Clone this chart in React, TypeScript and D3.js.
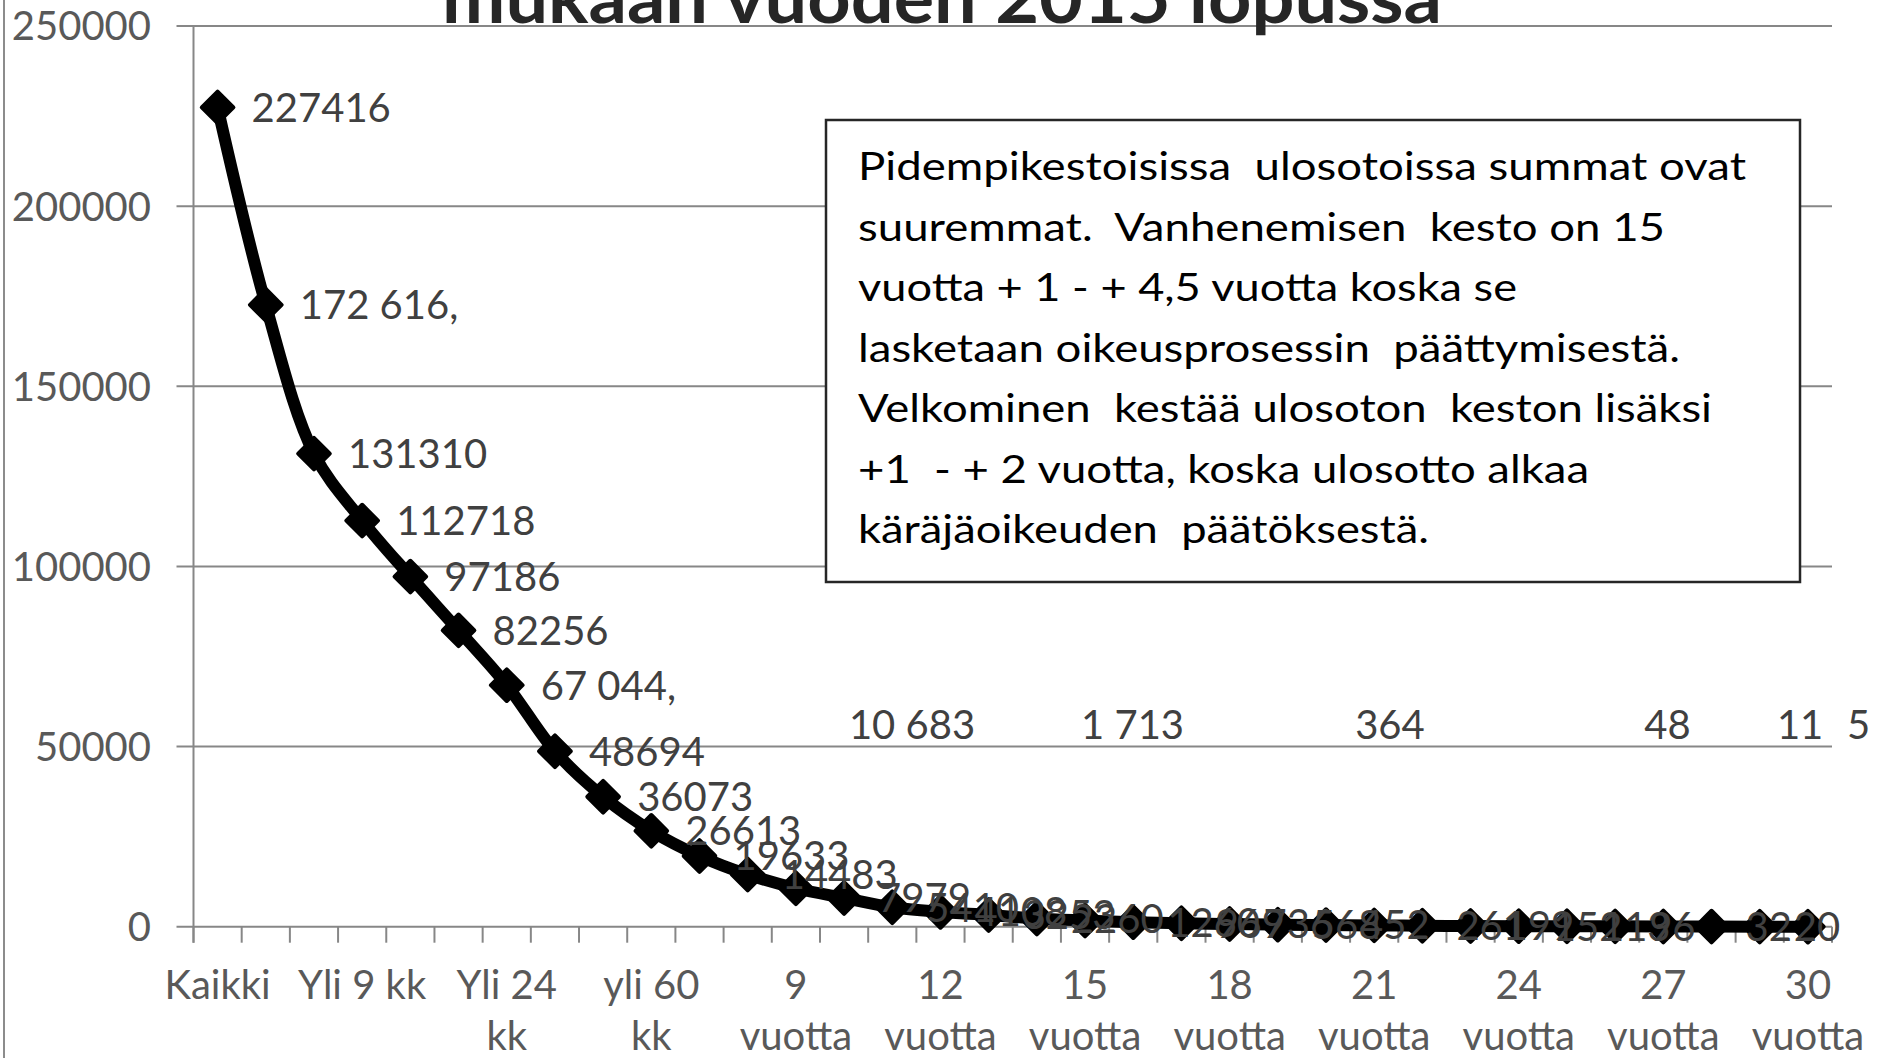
import React from "react";
import * as d3 from "d3";

const categories = [
  "Kaikki", "Yli 3 kk", "Yli 6 kk", "Yli 9 kk", "Yli 12 kk", "Yli 18 kk",
  "Yli 24 kk", "Yli 36 kk", "Yli 48 kk", "yli 60 kk", "7 vuotta", "8 vuotta",
  "9 vuotta", "10 vuotta", "11 vuotta", "12 vuotta", "13 vuotta", "14 vuotta",
  "15 vuotta", "16 vuotta", "17 vuotta", "18 vuotta", "19 vuotta", "20 vuotta",
  "21 vuotta", "22 vuotta", "23 vuotta", "24 vuotta", "25 vuotta", "26 vuotta",
  "27 vuotta", "28 vuotta", "29 vuotta", "30 vuotta",
];

const values = [
  227416, 172616, 131310, 112718, 97186, 82256, 67044, 48694, 36073, 26613,
  19633, 14483, 10683, 7979, 5410, 4108, 3253, 2260, 1713, 1260,
  969, 736, 568, 452, 364, 261, 199, 152, 113, 96,
  48, 32, 20, 11,
];

const valueLabels = [
  "227416", "172 616,", "131310", "112718", "97186", "82256", "67 044,", "48694", "36073", "26613",
  "19633", "14483", "10 683", "7979", "5410", "4108", "3253", "2260", "1 713", "1260",
  "969", "736", "568", "452", "364", "261", "199", "152", "113", "96",
  "48", "32", "20", "11",
];

// labels that were dragged up above the 50000 gridline: [point index, text, x offset]
const movedLabels: [number, string, number][] = [
  [12, "10 683", 53],
  [18, "1 713", -4],
  [24, "364", -19],
  [30, "48", -19],
  [33, "11", -31],
  [33, "5", 39],
];
const movedLabelValue = 52000;

const tickIndices = [0, 3, 6, 9, 12, 15, 18, 21, 24, 27, 30, 33];
const tickLabels = [
  ["Kaikki"], ["Yli 9 kk"], ["Yli 24", "kk"], ["yli 60", "kk"],
  ["9", "vuotta"], ["12", "vuotta"], ["15", "vuotta"], ["18", "vuotta"],
  ["21", "vuotta"], ["24", "vuotta"], ["27", "vuotta"], ["30", "vuotta"],
];

const yTicks = [0, 50000, 100000, 150000, 200000, 250000];

const titleText = "mukaan vuoden 2015 lopussa";

const noteLines = [
  "Pidempikestoisissa  ulosotoissa summat ovat",
  "suuremmat.  Vanhenemisen  kesto on 15",
  "vuotta + 1 - + 4,5 vuotta koska se",
  "lasketaan oikeusprosessin  päättymisestä.",
  "Velkominen  kestää ulosoton  keston lisäksi",
  "+1  - + 2 vuotta, koska ulosotto alkaa",
  "käräjäoikeuden  päätöksestä.",
];
const noteLineWidths = [888, 807, 659, 822, 854, 731, 571];

const W = 1877;
const H = 1058;
const FONT = "Lato, 'Open Sans', sans-serif";

export default function App() {
  const x = d3.scaleBand<string>().domain(categories).range([193.5, 1832]).padding(0);
  const y = d3.scaleLinear().domain([0, 250000]).range([926.7, 26]);
  const cx = (i: number) => (x(categories[i]) as number) + x.bandwidth() / 2;

  const line = d3
    .line<number>()
    .x((_, i) => cx(i))
    .y((d) => y(d))
    .curve(d3.curveCatmullRom.alpha(0.5));

  const diamond = d3.symbol().type(d3.symbolSquare).size(500)() as string;

  const axisX0 = 193.5;
  const plotRight = 1832;

  return (
    <svg
      width={W}
      height={H}
      style={{ position: "absolute", left: 0, top: 0, background: "#fff" }}
      fontFamily={FONT}
    >
      <rect x={0} y={0} width={W} height={H} fill="#fff" />
      {/* chart border (left) */}
      <line x1={4} x2={4} y1={0} y2={H} stroke="#8c8c8c" strokeWidth={2} />

      {/* gridlines + y ticks */}
      {yTicks.map((t) => (
        <g key={t}>
          <line
            x1={axisX0 - 17}
            x2={plotRight}
            y1={y(t)}
            y2={y(t)}
            stroke="#878787"
            strokeWidth={2}
          />
          <text
            x={151}
            y={y(t)}
            dy="0.36em"
            textAnchor="end"
            fontSize={40}
            fill="#595959"
          >
            {t}
          </text>
        </g>
      ))}

      {/* y axis line */}
      <line x1={axisX0} x2={axisX0} y1={y(250000)} y2={y(0) + 16} stroke="#878787" strokeWidth={2} />

      {/* x ticks at band boundaries */}
      {d3.range(categories.length + 1).map((k) => {
        const xx = axisX0 + k * x.bandwidth();
        return (
          <line key={k} x1={xx} x2={xx} y1={y(0)} y2={y(0) + 16} stroke="#878787" strokeWidth={2} />
        );
      })}

      {/* x tick labels */}
      {tickIndices.map((idx, j) => (
        <text key={idx} x={cx(idx)} y={999} textAnchor="middle" fontSize={40} fill="#595959">
          {tickLabels[j].map((ln, k) => (
            <tspan key={k} x={cx(idx)} dy={k === 0 ? 0 : 51}>
              {ln}
            </tspan>
          ))}
        </text>
      ))}

      {/* title (clipped at top) */}
      <text
        x={942}
        y={23}
        textAnchor="middle"
        fontSize={70}
        fontWeight="bold"
        fill="#262626"
        textLength={1000}
        lengthAdjust="spacingAndGlyphs"
      >
        {titleText}
      </text>

      {/* text box */}
      <rect x={826} y={120} width={974} height={462} fill="#fff" stroke="#262626" strokeWidth={2.5} />
      {noteLines.map((ln, i) => (
        <text
          key={i}
          x={858}
          y={180 + i * 60.5}
          fontSize={38}
          fill="#000"
          textLength={noteLineWidths[i]}
          lengthAdjust="spacingAndGlyphs"
          style={{ whiteSpace: "pre" }}
        >
          {ln}
        </text>
      ))}

      {/* series line */}
      <path d={line(values) as string} fill="none" stroke="#000" strokeWidth={12} strokeLinejoin="round" />
      {values.map((v, i) => (
        <path
          key={i}
          d={diamond}
          transform={`translate(${cx(i)},${y(v)}) rotate(45)`}
          fill="#000"
          stroke="#000"
          strokeWidth={4}
          strokeLinejoin="round"
        />
      ))}

      {/* data labels */}
      {values.map((v, i) =>
        movedLabels.some((m) => m[0] === i) ? null : (
          <text key={i} x={cx(i) + 34} y={y(v)} dy="0.36em" fontSize={40} fill="#404040">
            {valueLabels[i]}
          </text>
        )
      )}
      {movedLabels.map(([i, txt, dx], k) => (
        <text key={"m" + k} x={cx(i) + dx} y={y(movedLabelValue)} fontSize={40} fill="#404040">
          {txt}
        </text>
      ))}
    </svg>
  );
}
